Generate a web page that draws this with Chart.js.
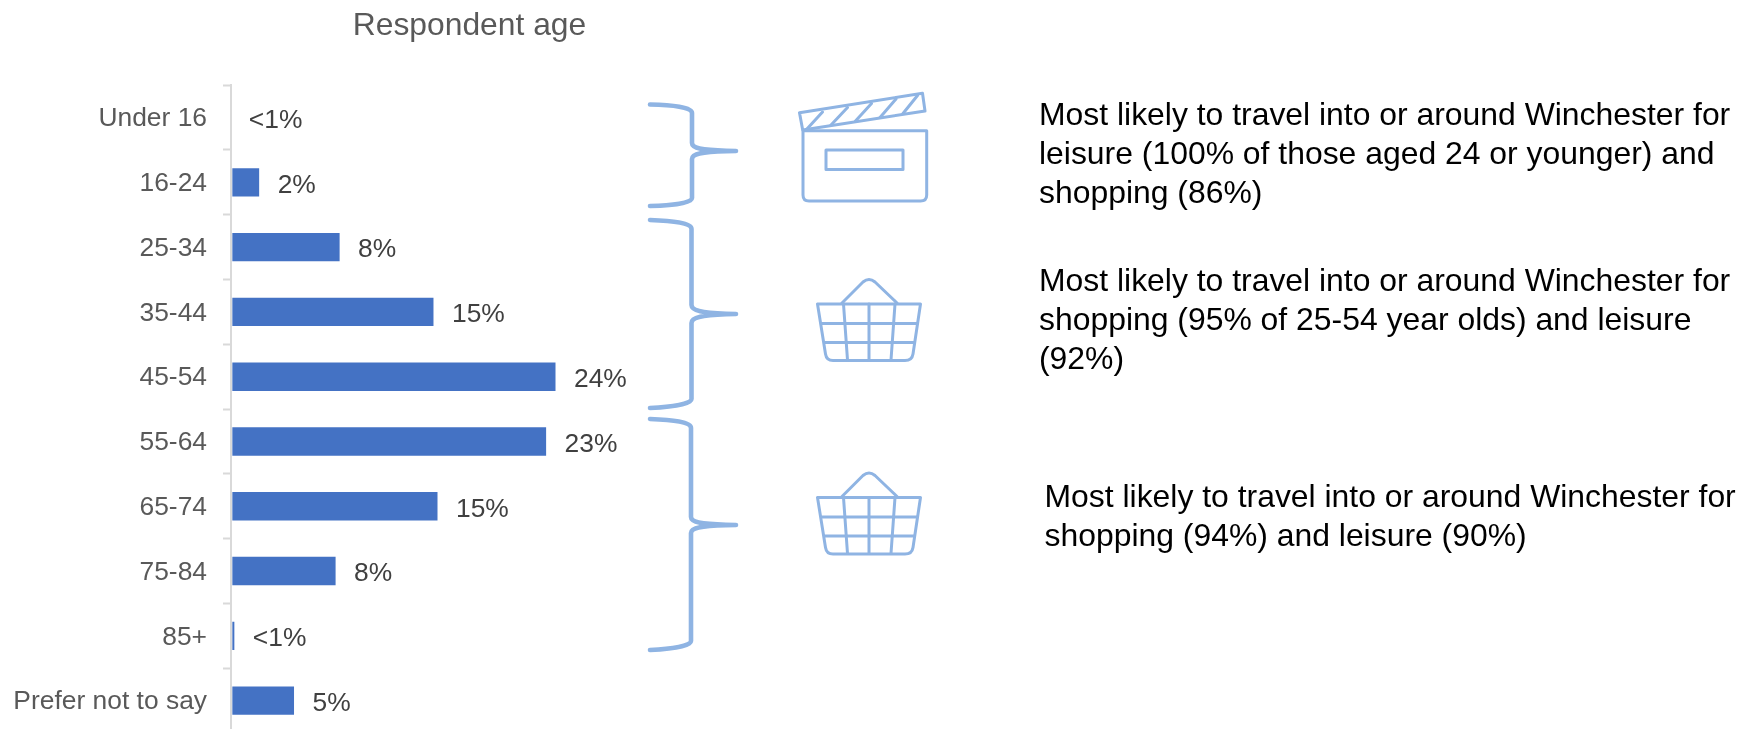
<!DOCTYPE html>
<html>
<head>
<meta charset="utf-8">
<title>Respondent age</title>
<script src="https://cdn.jsdelivr.net/npm/chart.js@4"></script>
<style>
  html, body { margin: 0; padding: 0; background: #fff; width: 1740px; height: 729px; overflow: hidden; }
  #chart { position: absolute; left: 0; top: 0; }
  #decor { position: absolute; left: 0; top: 0; }
  .note {
    position: absolute;
    font-family: "Liberation Sans", Arial, sans-serif;
    font-size: 31.9px;
    line-height: 39px;
    color: #000;
    white-space: nowrap;
  }
</style>
</head>
<body>
<canvas id="chart" width="939" height="733"></canvas>

<!-- brackets and icons sit outside the plot -->
<svg id="decor" width="1740" height="729" fill="none" stroke="#8FB4E3" stroke-linecap="round" stroke-linejoin="round">
  <defs>
    <g id="basket" stroke-width="3">
      <path d="M842 303 L863 282 Q869 277 875 282 L897 303" />
      <path d="M817.5 304 H920.5 L913 354 Q912 360.5 905 360.5 H833 Q826.5 360.5 825.5 354 Z" />
      <path d="M822 323.5 H917 M825 342.5 H914" />
      <path d="M843.5 304 L847.5 360 M869 304 V360 M895 304 L891 360" />
    </g>
  </defs>
  <g stroke-width="4.6">
    <path d="M650 104.5 C672 105 692 107 692 113 V143 C692 148 700 150.5 736 151 C700 151.5 692 154 692 159 V198 C692 203 672 205.5 650 206" />
    <path d="M650 220 C672 221 691.500 223 691.500 229 V305 C691.500 310 700 313.500 736 314 C700 314.500 691.500 318 691.500 323 V399 C691.500 404 672 407 650 408" />
    <path d="M650 419 C672 420 691 422 691 428 V517 C691 522 700 524.500 736 525 C700 525.500 691 528 691 533 V641 C691 646 672 649 650 650" />
  </g>
  <g stroke-width="3">
    <path d="M799.5 112.700 L922.500 93.300 L925 111 L802.700 130 Z" />
    <path d="M803 130.700 H926.700 V195 Q926.700 201 920.500 201 H809 Q803 201 803 195 Z" />
    <rect x="826" y="150" width="77" height="19.500" />
    <path d="M806 130 L822.500 112 M831 125 L847.500 107.500 M855.500 121 L871.500 103.500 M880 117.500 L896 99 M903 113.500 L917.500 95.500" />
  </g>
  <use href="#basket" />
  <use href="#basket" y="193.500" />
</svg>

<div class="note" style="left:1039px; top:95px;">Most likely to travel into or around Winchester for<br>leisure (100% of those aged 24 or younger) and<br>shopping (86%)</div>
<div class="note" style="left:1039px; top:261px;">Most likely to travel into or around Winchester for<br>shopping (95% of 25-54 year olds) and leisure<br>(92%)</div>
<div class="note" style="left:1044.500px; top:476.500px;">Most likely to travel into or around Winchester for<br>shopping (94%) and leisure (90%)</div>

<script>
const ageGroups = ["Under 16", "16-24", "25-34", "35-44", "45-54", "55-64", "65-74", "75-84", "85+", "Prefer not to say"];
const shares = [0, 2, 8, 15, 24.1, 23.4, 15.3, 7.7, 0.15, 4.6];
const shareLabels = ["<1%", "2%", "8%", "15%", "24%", "23%", "15%", "8%", "<1%", "5%"];

const fontFamily = '"Liberation Sans", Arial, sans-serif';

// no datalabels plugin available here, so write the labels by hand after the bars
const barLabels = {
  id: "barLabels",
  afterDatasetsDraw(chart) {
    const { ctx } = chart;
    ctx.save();
    ctx.font = `26.4px ${fontFamily}`;
    ctx.fillStyle = "#404040";
    ctx.textAlign = "left";
    ctx.textBaseline = "middle";
    chart.getDatasetMeta(0).data.forEach((bar, index) => {
      const gap = shares[index] === 0 ? 16.5 : 18.5; // empty bar sits a touch closer
      ctx.fillText(shareLabels[index], bar.x + gap, bar.y + 3);
    });
    ctx.restore();
  },
};

new Chart(document.getElementById("chart"), {
  type: "bar",
  data: {
    labels: ageGroups,
    datasets: [
      {
        data: shares,
        backgroundColor: "#4472C4",
        borderWidth: 0,
        barPercentage: 0.438,
        categoryPercentage: 1,
      },
    ],
  },
  options: {
    indexAxis: "y",
    responsive: false,
    animation: false,
    scales: {
      x: {
        display: false,
        min: -0.1,
        max: 52.7,
        grid: { display: false },
      },
      y: {
        // fixed width so the axis line lands where the reference has it,
        // and no label padding so the plot runs off the bottom like the reference
        afterFit(scale) {
          scale.width = 231;
          scale.paddingTop = 0;
          scale.paddingBottom = 0;
        },
        border: { color: "#D9D9D9", width: 2 },
        grid: {
          drawOnChartArea: false,
          drawTicks: true,
          tickLength: 8,
          tickWidth: 2,
          tickColor: "#D9D9D9",
        },
        ticks: {
          color: "#595959",
          padding: 16,
          labelOffset: 1.5,
          autoSkip: false,
          font: { family: fontFamily, size: 26.4 },
        },
      },
    },
    plugins: {
      legend: { display: false },
      tooltip: { enabled: false },
      title: {
        display: true,
        text: "Respondent age",
        color: "#595959",
        font: { family: fontFamily, size: 31.8, weight: "normal" },
        padding: { top: 7, bottom: 40 },
      },
    },
  },
  plugins: [barLabels],
});
</script>
</body>
</html>
